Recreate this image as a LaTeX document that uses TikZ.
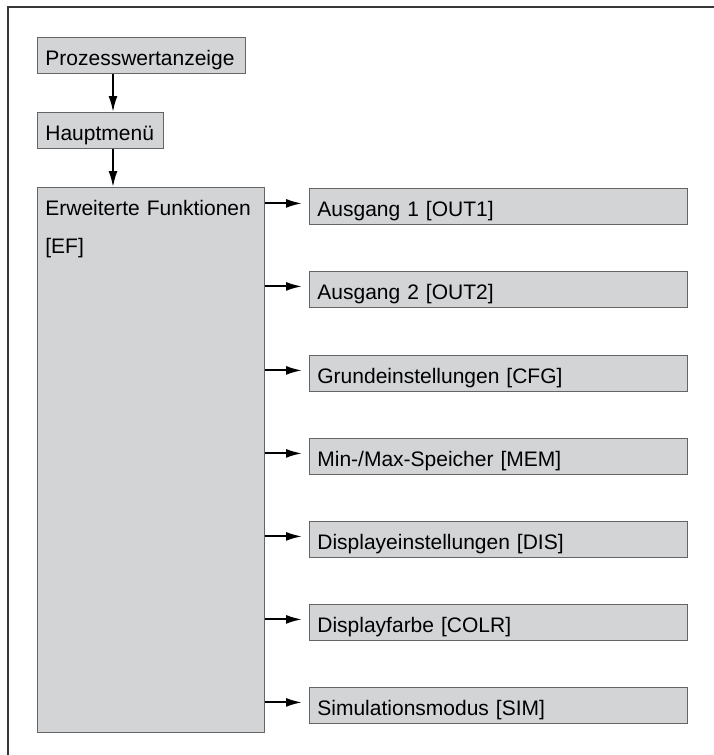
\documentclass[tikz,border=0pt]{standalone}
\usepackage{fontspec}
\setmainfont{Liberation Sans}
\usepackage{tikz}
\usetikzlibrary{arrows.meta, positioning}

\definecolor{boxgray}{RGB}{211,212,214}
\definecolor{boxline}{RGB}{100,100,100}
\definecolor{framegray}{RGB}{55,55,55}

\tikzset{
	menubox/.style={draw=boxline, line width=0.8pt, fill=boxgray, anchor=north west, inner xsep=8pt, inner ysep=0pt, align=left, text height=28pt, text depth=8pt, font=\fontsize{21}{38}\selectfont},
	arr/.style={-{Latex[length=16pt, width=9pt]}, line width=2pt},
}

\begin{document}
\begin{tikzpicture}[x=1pt, y=-1pt]
		\useasboundingbox (0,0) rectangle (714,755);

		\begin{scope}
			\draw [line width=2pt, framegray] (714,7) -- (8,7) -- (8,755);
		\end{scope}

		\begin{scope}
			\node [menubox, text width=192pt] (pwa) at (37,37) {Prozesswertanzeige};
			\node [menubox, text width=110pt] (hm) at (37,112) {Hauptmenü};
			\node [menubox, text width=211pt, text depth=517pt] (ef) at (37,187) {Erweiterte Funktionen\\{[EF]}};
		\end{scope}

		\begin{scope}
			\node [menubox, text width=362pt] (out1) at (309,188) {Ausgang 1 [OUT1]};
			\node [menubox, text width=362pt] (out2) at (309,271) {Ausgang 2 [OUT2]};
			\node [menubox, text width=362pt] (cfg) at (309,355) {Grundeinstellungen [CFG]};
			\node [menubox, text width=362pt] (mem) at (309,438) {Min-/Max-Speicher [MEM]};
			\node [menubox, text width=362pt] (dis) at (309,521) {Displayeinstellungen [DIS]};
			\node [menubox, text width=362pt] (colr) at (309,604) {Displayfarbe [COLR]};
			\node [menubox, text width=362pt] (sim) at (309,687) {Simulationsmodus [SIM]};
		\end{scope}

		\begin{scope}
			\draw [arr] ([xshift=76pt]pwa.south west) -- ([xshift=76pt]hm.north west);
			\draw [arr] ([xshift=76pt]hm.south west) -- ([xshift=76pt]ef.north west);
			\foreach \n in {out1, out2, cfg, mem, dis, colr, sim}
				\draw [arr, shorten >=7pt] ([yshift=3pt]ef.east |- \n.west) -- ([yshift=3pt]\n.west);
		\end{scope}
	\end{tikzpicture}
\end{document}
